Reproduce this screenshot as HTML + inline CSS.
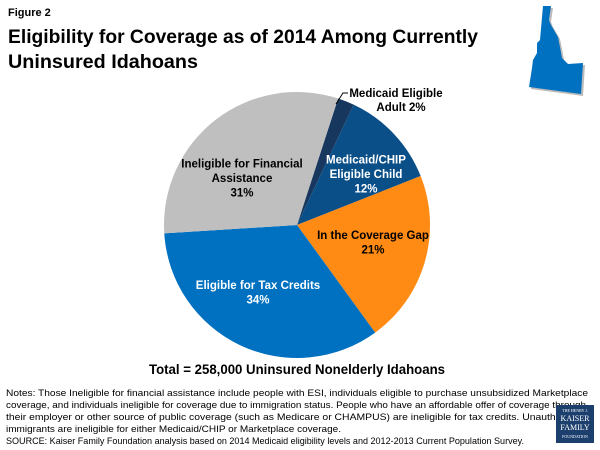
<!DOCTYPE html>
<html><head><meta charset="utf-8"><style>
html,body{margin:0;padding:0;background:#fff}
svg{display:block;font-family:"Liberation Sans",Arial,sans-serif}
</style></head><body>
<svg width="600" height="450" viewBox="0 0 600 450">
<text x="8" y="16" font-size="11" font-weight="bold" fill="#000">Figure 2</text>
<text x="8" y="43" font-size="19" font-weight="bold" fill="#000" textLength="470" lengthAdjust="spacingAndGlyphs">Eligibility for Coverage as of 2014 Among Currently</text>
<text x="8" y="68" font-size="19" font-weight="bold" fill="#000" textLength="190" lengthAdjust="spacingAndGlyphs">Uninsured Idahoans</text>
<g>
<polygon points="543,6 551,6 549,20 551,25 558,37 560,47 562,58 568,64 583,63 581,94 529,87 532,68 533,60 537,53 537,43 540,40" fill="#777" opacity="0.5" transform="translate(2,2)"/>
<polygon points="543,6 551,6 549,20 551,25 558,37 560,47 562,58 568,64 583,63 581,94 529,87 532,68 533,60 537,53 537,43 540,40" fill="#0070c0"/>
</g>
<g id="pie"></g>
<g id="labels"></g>
<polyline points="336,104 343,93 348,93" fill="none" stroke="#000" stroke-width="1"/>
<text x="297" y="374" font-size="14" font-weight="bold" text-anchor="middle" textLength="296" lengthAdjust="spacingAndGlyphs">Total = 258,000 Uninsured Nonelderly Idahoans</text>
<g font-size="9.5" fill="#000">
<text x="6" y="396" textLength="582" lengthAdjust="spacingAndGlyphs">Notes: Those Ineligible for financial assistance include people with ESI, individuals eligible to purchase unsubsidized Marketplace</text>
<text x="6" y="408" textLength="580" lengthAdjust="spacingAndGlyphs">coverage, and individuals ineligible for coverage due to immigration status. People who have an affordable offer of coverage through</text>
<text x="6" y="420" textLength="578" lengthAdjust="spacingAndGlyphs">their employer or other source of public coverage (such as Medicare or CHAMPUS) are ineligible for tax credits. Unauthorized</text>
<text x="6" y="432" textLength="335" lengthAdjust="spacingAndGlyphs">immigrants are ineligible for either Medicaid/CHIP or Marketplace coverage.</text>
<text x="6" y="444" textLength="518" lengthAdjust="spacingAndGlyphs">SOURCE: Kaiser Family Foundation analysis based on 2014 Medicaid eligibility levels and 2012-2013 Current Population Survey.</text>
</g>
<g>
<rect x="556" y="405" width="38" height="38" fill="#1c3f6e"/>
<text x="575" y="412" font-size="4" fill="#fff" text-anchor="middle" font-family="Liberation Serif,serif">THE HENRY J.</text>
<text x="575" y="421" font-size="8" fill="#fff" text-anchor="middle" font-family="Liberation Serif,serif">KAISER</text>
<text x="575" y="430" font-size="8" fill="#fff" text-anchor="middle" font-family="Liberation Serif,serif">FAMILY</text>
<text x="575" y="438" font-size="4" fill="#fff" text-anchor="middle" font-family="Liberation Serif,serif">FOUNDATION</text>
</g>
</svg>
<script>
const categories=["Medicaid Eligible Adult","Medicaid/CHIP Eligible Child","In the Coverage Gap","Eligible for Tax Credits","Ineligible for Financial Assistance"];
const values=[2,12,21,34,31];
const colors=["#17375e","#0b4f88","#ff8a14","#0070c0","#bfbfbf"];
const labelLines=[null,["Medicaid/CHIP","Eligible Child","12%"],["In the Coverage Gap","21%"],["Eligible for Tax Credits","34%"],["Ineligible for Financial","Assistance","31%"]];
const labelColors=[null,"#fff","#000","#fff","#000"];
const labelAnchors=[null,[366,174],[373,242],[258,292],[242,178]];
const cx=297,cy=225,r=133,start=18;
const NS="http://www.w3.org/2000/svg";
const pie=document.getElementById('pie'),lab=document.getElementById('labels');
const total=values.reduce((a,b)=>a+b,0);
function pt(deg,rad){const a=(deg-90)*Math.PI/180;return [cx+rad*Math.cos(a),cy+rad*Math.sin(a)];}
let ang=start;
values.forEach((v,i)=>{
  const sweep=v/total*360,a0=ang,a1=ang+sweep;ang=a1;
  const p0=pt(a0,r),p1=pt(a1,r);
  const path=document.createElementNS(NS,'path');
  path.setAttribute('d',`M${cx},${cy}L${p0[0]},${p0[1]}A${r},${r} 0 ${sweep>180?1:0} 1 ${p1[0]},${p1[1]}Z`);
  path.setAttribute('fill',colors[i]);
  
  
  pie.appendChild(path);
  if(labelLines[i]){
    const c=labelAnchors[i];
    const t=document.createElementNS(NS,'text');
    
    
    t.setAttribute('text-anchor','middle');t.setAttribute('font-size','11.5');t.setAttribute('font-weight','bold');t.setAttribute('fill',labelColors[i]);
    const lines=labelLines[i].slice();lines[lines.length-1]=v+'%';
    const n=lines.length;
    lines.forEach((s,k)=>{const ts=document.createElementNS(NS,'tspan');ts.setAttribute('x',c[0]);ts.setAttribute('y',c[1]+(k-(n-1)/2)*14.5+4);ts.textContent=s;t.appendChild(ts);});
    lab.appendChild(t);
  }
});
const t=document.createElementNS(NS,'text');


t.setAttribute('text-anchor','middle');t.setAttribute('font-size','11.5');t.setAttribute('font-weight','bold');
[["Medicaid Eligible",396,97],["Adult "+values[0]+"%",401,111]].forEach(([s,x,y])=>{const ts=document.createElementNS(NS,'tspan');ts.setAttribute('x',x);ts.setAttribute('y',y);ts.textContent=s;t.appendChild(ts);});
lab.appendChild(t);
</script>
</body></html>
